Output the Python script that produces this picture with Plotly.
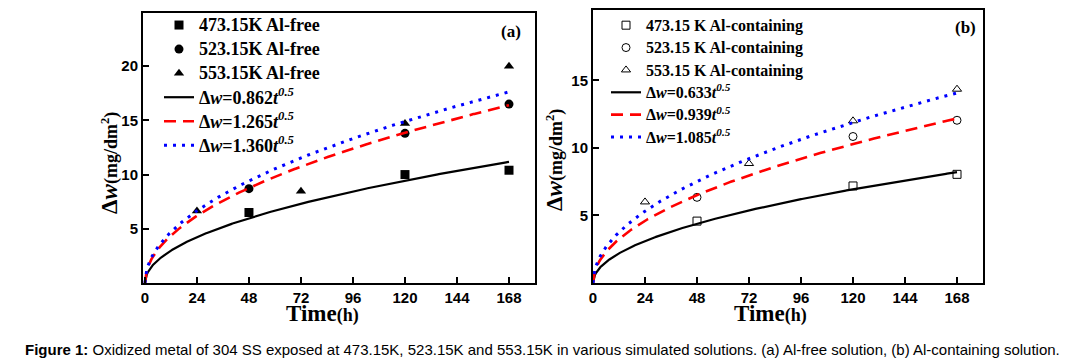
import numpy as np
import plotly.graph_objects as go

W, H = 1068, 364

# ---------------- data ----------------
x_ticks = [0, 24, 48, 72, 96, 120, 144, 168]

# (a) Al-free
a_t_473 = [48, 120, 168]
a_w_473 = [6.5, 10.0, 10.4]
a_t_523 = [48, 120, 168]
a_w_523 = [8.7, 13.8, 16.5]
a_t_553 = [24, 72, 120, 168]
a_w_553 = [6.65, 8.45, 14.7, 20.0]
a_k = [0.862, 1.265, 1.360]
a_labels_pts = ["473.15K Al-free", "523.15K Al-free", "553.15K Al-free"]
a_yticks = [5, 10, 15, 20]

# (b) Al-containing
b_t_473 = [48, 120, 168]
b_w_473 = [4.58, 7.18, 8.04]
b_t_523 = [48, 120, 168]
b_w_523 = [6.34, 10.84, 12.04]
b_t_553 = [24, 72, 120, 168]
b_w_553 = [6.0, 8.84, 12.0, 14.34]
b_k = [0.633, 0.939, 1.085]
b_labels_pts = ["473.15 K Al-containing", "523.15 K Al-containing", "553.15 K Al-containing"]
b_yticks = [5, 10, 15]

t_fit = np.linspace(0, 168, 400)

SERIF = "Liberation Serif, Times New Roman, serif"
SANS = "Liberation Sans, Arial, sans-serif"

line_styles = [
    dict(color="black", width=2.2, dash="solid"),
    dict(color="red", width=2.6, dash="12px,7px"),
    dict(color="blue", width=3, dash="3px,6px"),
]


def big(txt, size):
    return f"<span style='font-size:{size}px'><b>{txt}</b></span>"


def fit_label(k, size):
    return big(f"Δ<i>w</i>={k:.3f}<i>t</i><sup><i>0.5</i></sup>", size)


def px_x(p):
    return p / W


def px_y(p):
    return 1 - p / H


fig = go.Figure()

# panel a
A_FS = 18
a_pts = [(a_t_473, a_w_473, "square"), (a_t_523, a_w_523, "circle"), (a_t_553, a_w_553, "triangle-up")]
for (tt, ww, sym), lab in zip(a_pts, a_labels_pts):
    fig.add_trace(go.Scatter(x=tt, y=ww, mode="markers", name=big(lab, A_FS),
                             marker=dict(symbol=sym, size=9, color="black"),
                             xaxis="x", yaxis="y", legend="legend"))
for k, ls in zip(a_k, line_styles):
    fig.add_trace(go.Scatter(x=t_fit, y=k * np.sqrt(t_fit), mode="lines", name=fit_label(k, A_FS),
                             line=ls, xaxis="x", yaxis="y", legend="legend"))

# panel b
B_FS = 16
b_pts = [(b_t_473, b_w_473, "square-open"), (b_t_523, b_w_523, "circle-open"), (b_t_553, b_w_553, "triangle-up-open")]
for (tt, ww, sym), lab in zip(b_pts, b_labels_pts):
    fig.add_trace(go.Scatter(x=tt, y=ww, mode="markers", name=big(lab, B_FS),
                             marker=dict(symbol=sym, size=8, color="black", line=dict(width=1)),
                             xaxis="x2", yaxis="y2", legend="legend2"))
for k, ls in zip(b_k, line_styles):
    fig.add_trace(go.Scatter(x=t_fit, y=k * np.sqrt(t_fit), mode="lines", name=fit_label(k, B_FS),
                             line=ls, xaxis="x2", yaxis="y2", legend="legend2"))

axis_common = dict(showline=True, linewidth=2, linecolor="black", mirror=True,
                   ticks="inside", ticklen=6, tickwidth=2, tickcolor="black",
                   showgrid=False, zeroline=False, automargin=False,
                   tickfont=dict(family=SANS, size=15, color="black", weight="bold"))

fig.update_layout(
    width=W, height=H,
    margin=dict(l=0, r=0, t=0, b=0, autoexpand=False),
    plot_bgcolor="white", paper_bgcolor="white",
    showlegend=True,
    xaxis=dict(domain=[px_x(143), px_x(535)], range=[-0.9, 180], tickvals=x_ticks,
               anchor="y", **axis_common),
    yaxis=dict(domain=[px_y(283), px_y(13)], range=[0, 24.9], tickvals=a_yticks,
               anchor="x", **axis_common),
    xaxis2=dict(domain=[px_x(593), px_x(983)], range=[0, 180], tickvals=x_ticks,
                anchor="y2", **axis_common),
    yaxis2=dict(domain=[px_y(283), px_y(10)], range=[0, 20.2], tickvals=b_yticks,
                anchor="x2", **axis_common),
    legend=dict(x=px_x(159), y=px_y(8), xanchor="left", yanchor="top",
                bgcolor="rgba(0,0,0,0)", borderwidth=0, tracegroupgap=0,
                font=dict(family=SERIF, size=16.2, color="black")),
    legend2=dict(x=px_x(606), y=px_y(9), xanchor="left", yanchor="top",
                 bgcolor="rgba(0,0,0,0)", borderwidth=0, tracegroupgap=0,
                 font=dict(family=SERIF, size=14.9, color="black")),
)

annotations = [
    dict(text="<b>(a)</b>", x=px_x(511), y=px_y(31)),
    dict(text="<b>(b)</b>", x=px_x(965), y=px_y(28)),
]
for a in annotations:
    a.update(xref="paper", yref="paper", xanchor="center", yanchor="middle", showarrow=False,
             font=dict(family=SERIF, size=17, color="black"))

time_title = "<b><span style='font-size:23px'>Time</span>(h)</b>"
titles = [
    # x titles
    dict(text=time_title, x=px_x(322), y=px_y(313), xanchor="center", yanchor="middle",
         font=dict(family=SERIF, size=18, color="black")),
    dict(text=time_title, x=px_x(770), y=px_y(313), xanchor="center", yanchor="middle",
         font=dict(family=SERIF, size=18, color="black")),
    # y titles
    dict(text="<b>Δ<i>w</i></b>", x=px_x(109), y=px_y(216), xanchor="center", yanchor="bottom",
         textangle=-90, font=dict(family=SERIF, size=23, color="black")),
    dict(text="<b>(mg/dm<sup>2</sup>)</b>", x=px_x(110), y=px_y(186), xanchor="center",
         yanchor="bottom", textangle=-90, font=dict(family=SERIF, size=18, color="black")),
    dict(text="<b>Δ<i>w</i></b>", x=px_x(554), y=px_y(213), xanchor="center", yanchor="bottom",
         textangle=-90, font=dict(family=SERIF, size=23, color="black")),
    dict(text="<b>(mg/dm<sup>2</sup>)</b>", x=px_x(555), y=px_y(183), xanchor="center",
         yanchor="bottom", textangle=-90, font=dict(family=SERIF, size=18, color="black")),
    dict(text="<b>Figure 1:</b> Oxidized metal of 304 SS exposed at 473.15K, 523.15K and 553.15K in various "
              "simulated solutions. (a) Al-free solution, (b) Al-containing solution.",
         x=px_x(542), y=px_y(349), xanchor="center", yanchor="middle",
         font=dict(family=SANS, size=15, color="black")),
]
for a in titles:
    a.update(xref="paper", yref="paper", showarrow=False)
    annotations.append(a)

fig.update_layout(annotations=annotations)

fig.write_html("out.html", config={"displayModeBar": False},
               post_script="document.body.style.margin='0px';")
